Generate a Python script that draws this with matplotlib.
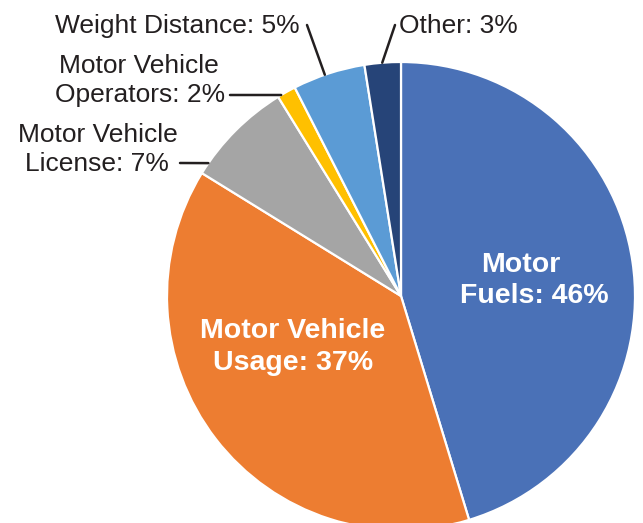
import numpy as np
import matplotlib
matplotlib.use("Agg")
import matplotlib.pyplot as plt

# ---- data ----
categories = ["Motor Fuels", "Motor Vehicle Usage", "Motor Vehicle License",
              "Motor Vehicle Operators", "Weight Distance", "Other"]
shares = [45.3, 38.5, 7.4, 1.3, 5.0, 2.5]
label_pct = ["46%", "37%", "7%", "2%", "5%", "3%"]
colors = ["#4A71B7", "#ED7D31", "#A5A5A5", "#FFC000", "#5B9BD5", "#264478"]

W, H = 643, 523
fig = plt.figure(figsize=(W / 100, H / 100), dpi=100)
cx, cy, R = 401, 296, 234
ax = fig.add_axes([(cx - R) / W, (H - cy - R) / H, 2 * R / W, 2 * R / H])

ax.pie(shares, colors=colors, startangle=90, counterclock=False, radius=1.0,
       wedgeprops=dict(edgecolor="white", linewidth=1.6))
ax.set_xlim(-1, 1)
ax.set_ylim(-1, 1)
ax.set_aspect("equal")
ax.axis("off")

def d(px, py):
    return ((px - cx) / R, (cy - py) / R)

txt_col = "#231F20"
fo = dict(family="Liberation Sans", fontsize=19, color=txt_col)
fb = dict(family="Liberation Sans", fontsize=20.5, color="white", fontweight="bold")

# inner labels (line by line)
inner = [
    (["Motor", "Fuels: " + label_pct[0]], [(521, 272), (534, 303)]),
    (["Motor Vehicle", "Usage: " + label_pct[1]], [(293, 338), (293, 370)]),
]
for lines, pos in inner:
    for s, (px, py) in zip(lines, pos):
        x, y = d(px, py)
        ax.text(x, y, s, ha="center", va="baseline", **fb)

# outside labels
outside = [
    (["Weight Distance: " + label_pct[4]], [(300, 33)], "right"),
    (["Other: " + label_pct[5]], [(399, 33)], "left"),
    (["Motor Vehicle", "Operators: " + label_pct[3]], [(139, 73), (140, 102)], "center"),
    (["Motor Vehicle", "License: " + label_pct[2]], [(98, 142), (97, 171)], "center"),
]
for lines, pos, ha in outside:
    for s, (px, py) in zip(lines, pos):
        x, y = d(px, py)
        ax.text(x, y, s, ha=ha, va="baseline", clip_on=False, **fo)

# leader lines: start point (px) -> angle on pie edge
leaders = [((307, 25), 109.0), ((395, 25), 94.6), ((230, 95), 120.8), ((180, 163), 145.4)]
for (px, py), ang in leaders:
    x0, y0 = d(px, py)
    a = np.deg2rad(ang)
    ax.annotate("", xy=(np.cos(a), np.sin(a)), xytext=(x0, y0),
                arrowprops=dict(arrowstyle="-", color=txt_col, lw=1.8,
                                shrinkA=0, shrinkB=0), annotation_clip=False)

fig.savefig("out.png", dpi=100)
